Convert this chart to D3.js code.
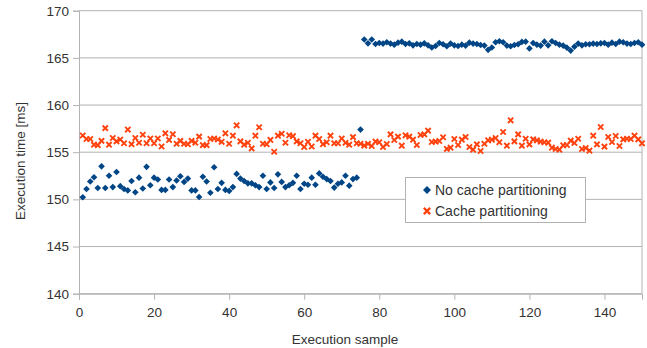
<!DOCTYPE html>
<html>
<head>
<meta charset="utf-8">
<script src="https://cdn.jsdelivr.net/npm/d3@7"></script>
<style>
  html, body { margin: 0; padding: 0; background: #fff; }
  svg { display: block; font-family: "Liberation Sans", Arial, sans-serif; }
</style>
</head>
<body>
<svg id="chart" width="647" height="348"></svg>
<script>
// Execution time per sample, in ms
const noCachePartitioning = [
  150.23, 151.1, 151.9, 152.35, 151.2, 153.5, 151.2, 152.5, 151.3, 152.9,
  151.4, 151.1, 150.95, 151.95, 150.75, 152.3, 151.15, 153.45, 151.5, 152.3,
  152.1, 151.0, 151.0, 152.1, 151.3, 152.0, 152.45, 151.85, 152.2, 150.95,
  150.95, 150.25, 152.4, 151.9, 150.7, 153.4, 151.1, 151.75, 151.0, 150.9,
  151.3, 152.7, 152.2, 151.95, 151.7, 151.7, 151.5, 151.3, 152.5, 151.1,
  151.8, 151.2, 152.65, 151.85, 151.3, 151.5, 151.75, 152.5, 151.1, 151.65,
  151.55, 152.3, 151.55, 152.75, 152.4, 152.15, 151.95, 151.25, 151.65, 151.8,
  152.5, 151.45, 152.15, 152.3, 157.4,
  166.95, 166.54, 166.95, 166.47, 166.58, 166.51, 166.65, 166.51, 166.4, 166.61,
  166.72, 166.47, 166.54, 166.33, 166.47, 166.4, 166.54, 166.33, 166.1, 166.26,
  166.58, 166.44, 166.23, 166.51, 166.33, 166.26, 166.4, 166.3, 166.61, 166.51,
  166.47, 166.37, 166.3, 165.85, 166.1, 166.65, 166.76, 166.65, 166.3, 166.23,
  166.37, 166.44, 166.69, 166.72, 166.0, 166.58, 166.4, 166.3, 166.72, 166.33,
  166.76, 166.58, 166.4, 166.3, 166.08, 165.77, 166.19, 166.51, 166.33, 166.44,
  166.44, 166.51, 166.47, 166.54, 166.58, 166.4, 166.61, 166.47, 166.72, 166.65,
  166.51, 166.47, 166.58, 166.65, 166.4
];

const cachePartitioning = [
  156.77, 156.4, 156.4, 155.8, 155.75, 156.2, 157.55, 155.8, 156.5, 156.15,
  156.35, 155.95, 157.4, 155.85, 156.5, 156.0, 156.85, 155.95, 156.45, 155.95,
  156.45, 155.6, 157.0, 156.3, 156.9, 155.9, 156.2, 155.9, 155.85, 156.2,
  156.0, 156.65, 155.75, 155.75, 156.4, 156.45, 156.35, 156.1, 157.0, 155.9,
  156.75, 157.85, 156.15, 155.8, 156.0, 155.4, 156.75, 157.65, 155.9, 155.85,
  156.3, 155.05, 156.75, 156.95, 156.0, 156.8, 156.7, 156.15, 155.95, 155.55,
  156.1, 155.6, 156.75, 156.4, 155.85, 156.05, 156.75, 155.95, 155.95, 156.45,
  156.0, 155.8, 156.6, 155.95, 155.9, 155.7, 155.9, 155.66, 156.12, 156.05,
  155.55, 155.87, 156.89, 156.29, 156.65, 155.69, 156.79, 156.65, 156.33, 155.76,
  156.82, 156.89, 157.28, 156.08, 156.12, 156.19, 156.58, 155.35, 155.48, 156.4,
  155.76, 156.33, 156.61, 155.55, 155.27, 155.83, 155.13, 155.9, 156.26, 156.33,
  156.5, 156.05, 157.14, 155.69, 158.38, 156.15, 156.89, 155.69, 156.43, 155.83,
  156.36, 156.26, 156.12, 156.05, 156.01, 155.48, 155.34, 155.27, 155.73, 155.76,
  156.22, 155.98, 156.43, 155.34, 155.45, 155.16, 156.75, 155.83, 157.67, 155.59,
  156.61, 156.08, 156.72, 155.66, 156.36, 156.43, 156.4, 156.75, 156.36, 155.94
];

const xTicks = [0, 20, 40, 60, 80, 100, 120, 140];
const yTicks = [140, 145, 150, 155, 160, 165, 170];
const seriesNames = ["No cache partitioning", "Cache partitioning"];
const seriesColors = ["#004586", "#ff420e"];

const svg = d3.select("#chart");
const plotLeft = 79, plotRight = 642, plotTop = 10.7, plotBottom = 293.7;
const gridColor = "#b3b3b3";

const x = d3.scaleLinear().domain([0, 150]).range([plotLeft, plotRight]);
const y = d3.scaleLinear().domain([140, 170]).range([plotBottom, plotTop]);

// horizontal grid
svg.append("g")
  .selectAll("line")
  .data(yTicks)
  .join("line")
  .attr("x1", plotLeft).attr("x2", plotRight)
  .attr("y1", d => y(d)).attr("y2", d => y(d))
  .attr("stroke", gridColor).attr("stroke-width", 1);

// right border
svg.append("line")
  .attr("x1", plotRight).attr("x2", plotRight)
  .attr("y1", plotTop).attr("y2", plotBottom)
  .attr("stroke", gridColor);

// axes
const yAxis = svg.append("g")
  .attr("transform", `translate(${plotLeft},0)`)
  .call(d3.axisLeft(y).tickValues(yTicks).tickSize(6).tickPadding(4));
const xAxis = svg.append("g")
  .attr("transform", `translate(0,${plotBottom})`)
  .call(d3.axisBottom(x).tickValues(xTicks).tickSize(6).tickPadding(8));

[xAxis, yAxis].forEach(g => {
  g.select(".domain").attr("stroke", gridColor);
  g.selectAll(".tick line").attr("stroke", gridColor);
  g.selectAll(".tick text")
    .attr("fill", "#333")
    .style("font-size", "13.5px")
    .style("font-family", "'Liberation Sans', Arial, sans-serif");
});

// axis titles
svg.append("text")
  .attr("x", 345).attr("y", 344)
  .attr("text-anchor", "middle")
  .attr("fill", "#333")
  .style("font-size", "13.5px")
  .text("Execution sample");

svg.append("text")
  .attr("transform", `translate(25,161) rotate(-90)`)
  .attr("text-anchor", "middle")
  .attr("fill", "#333")
  .style("font-size", "13.5px")
  .text("Execution time [ms]");

// markers: rotated squares for one series, stroked X shapes for the other
const diamond = d3.symbol().type(d3.symbolSquare).size(22);
const cross = d3.symbol().type(d3.symbolTimes).size(20);

function drawCross(sel) {
  sel.attr("d", cross)
    .attr("fill", "none")
    .attr("stroke", seriesColors[1])
    .attr("stroke-width", 1.9);
}
function drawDiamond(sel) {
  sel.attr("d", diamond)
    .attr("fill", seriesColors[0]);
}

svg.append("g")
  .selectAll("path")
  .data(cachePartitioning.map((v, i) => [i + 1, v]))
  .join("path")
  .call(drawCross)
  .attr("transform", d => `translate(${x(d[0])},${y(d[1])})`);

svg.append("g")
  .selectAll("path")
  .data(noCachePartitioning.map((v, i) => [i + 1, v]))
  .join("path")
  .call(drawDiamond)
  .attr("transform", d => `translate(${x(d[0])},${y(d[1])}) rotate(45)`);

// legend
const legend = svg.append("g");
legend.append("rect")
  .attr("x", 405.5).attr("y", 177.5)
  .attr("width", 180).attr("height", 45)
  .attr("fill", "#fff").attr("stroke", gridColor);

const legendRows = legend.selectAll("g.row")
  .data(seriesNames)
  .join("g")
  .attr("class", "row")
  .attr("transform", (d, i) => `translate(427,${190 + i * 21})`);

legendRows.filter((d, i) => i === 0).append("path")
  .call(drawDiamond)
  .attr("transform", "rotate(45) scale(1.2)");
legendRows.filter((d, i) => i === 1).append("path")
  .call(drawCross)
  .attr("transform", "scale(1.2)");

legendRows.append("text")
  .attr("x", 8).attr("y", 5)
  .attr("fill", "#333")
  .style("font-size", "14px")
  .text(d => d);
</script>
</body>
</html>
